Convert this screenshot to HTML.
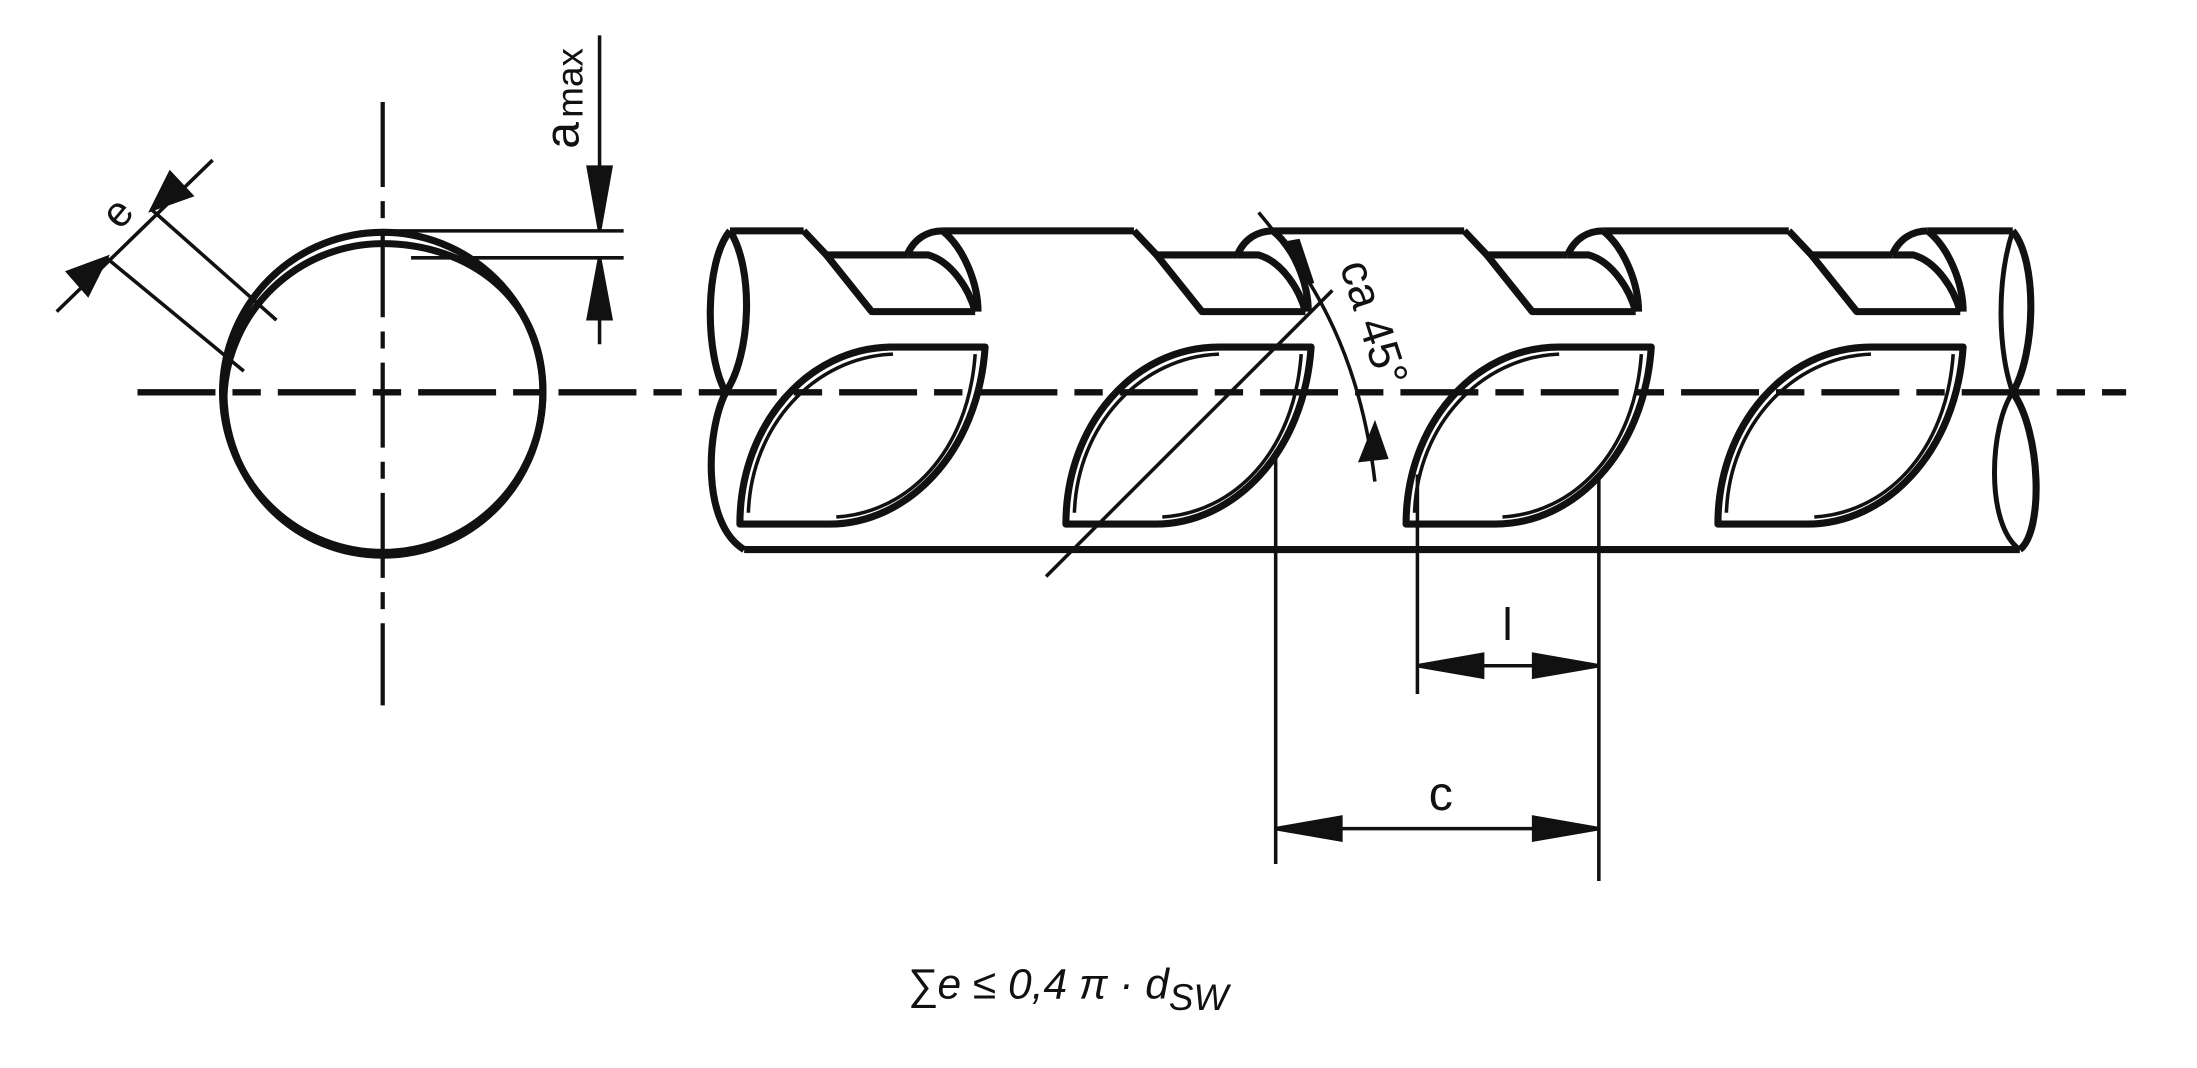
<!DOCTYPE html>
<html><head><meta charset="utf-8"><style>
html,body{margin:0;padding:0;background:#fff;}
svg{display:block;}
</style></head><body>
<svg width="2197" height="1068" viewBox="0 0 1550 754" preserveAspectRatio="none" xmlns="http://www.w3.org/2000/svg">
<defs>
<g id="toprib" fill="none" stroke="#111" stroke-width="5" stroke-linejoin="round">
  <path d="M567,163 L583,180 L640,180"/>
  <path d="M583,180 L615,220 L688,220"/>
  <path d="M640,180 C645,168 655,163 665,163"/>
  <path d="M640,180 L655,180 C672,185 684,205 688,220"/>
  <path d="M665,163 C680,175 690,200 690,220"/>
</g>
<g id="leaf" fill="none" stroke="#111" stroke-linejoin="round">
  <path stroke-width="5" d="M630,245 L695,245 C690,320 640,370 585,370 L522,370 C522,300 570,245 630,245"/>
  <path stroke-width="2.5" d="M528,362 C530,300 575,252 630,250"/>
  <path stroke-width="2.5" d="M688,250 C683,320 640,362 590,365"/>
</g>
</defs>

<line x1="97" y1="277" x2="1500" y2="277" stroke="#111" stroke-width="4.5" stroke-dasharray="55 12 20 12"/>
<line x1="270" y1="72" x2="270" y2="498" stroke="#111" stroke-width="3" stroke-dasharray="60 10 12 10"/>

<ellipse cx="270" cy="277" rx="113" ry="113" fill="none" stroke="#111" stroke-width="5"/>
<path d="M270,172 C330,172 385,210 383,280 C381,345 330,392 270,392 C210,392 160,345 158,280 C160,220 210,172 270,172Z" fill="none" stroke="#111" stroke-width="5"/>

<g stroke="#111" stroke-width="2.5" fill="#111">
  <line x1="40" y1="220" x2="150" y2="113"/>
  <line x1="107" y1="148" x2="195" y2="226"/>
  <line x1="75" y1="182" x2="172" y2="262"/>
  <polygon points="107,148 120,122 135,138"/>
  <polygon points="75,182 62,208 48,192"/>
</g>
<text x="0" y="0" transform="translate(85,163) rotate(-50)" font-family="Liberation Sans, sans-serif" font-size="30" fill="#111">e</text>

<g stroke="#111" stroke-width="2.5" fill="#111">
  <line x1="423" y1="25" x2="423" y2="163"/>
  <line x1="423" y1="182" x2="423" y2="243"/>
  <line x1="270" y1="163" x2="440" y2="163"/>
  <line x1="290" y1="182" x2="440" y2="182"/>
  <polygon points="423,163 415,118 431,118"/>
  <polygon points="423,182 415,225 431,225"/>
</g>
<text transform="translate(408,105) rotate(-90)" font-family="Liberation Sans, sans-serif" font-size="34" fill="#111">a<tspan font-size="26" dy="3" dx="3">max</tspan></text>

<g fill="none" stroke="#111" stroke-width="5" stroke-linejoin="round">
  <path d="M515,163 L567,163"/>
  <path d="M665,163 L800,163"/>
  <path d="M898,163 L1033,163"/>
  <path d="M1131,163 L1262,163"/>
  <path d="M1360,163 L1420,163"/>
  <path d="M525,388 L1425,388"/>
  <path d="M515,163 C497,185 497,250 512,277 C498,305 495,370 525,388"/>
  <path d="M515,163 C532,190 530,250 512,277"/>
  <path d="M1420,163 C1438,185 1436,250 1420,277 C1440,305 1442,375 1425,388"/>
  <path d="M1420,163 C1408,200 1410,250 1420,277 C1404,300 1400,370 1425,388" stroke-width="3.5"/>
</g>
<use href="#toprib"/>
<use href="#toprib" transform="translate(233,0)"/>
<use href="#toprib" transform="translate(466,0)"/>
<use href="#toprib" transform="translate(695,0)"/>
<use href="#leaf"/>
<use href="#leaf" transform="translate(230,0)"/>
<use href="#leaf" transform="translate(470,0)"/>
<use href="#leaf" transform="translate(690,0)"/>

<g stroke="#111" stroke-width="2.5" fill="#111">
  <line x1="738" y1="407" x2="940" y2="205"/>
  <path d="M888,150 C930,200 960,255 970,340" fill="none"/>
  <polygon points="905,172 916,170 926,200"/>
  <polygon points="970,300 960,325 978,323"/>
</g>
<text transform="translate(945,188) rotate(72)" font-family="Liberation Sans, sans-serif" font-size="32" fill="#111">ca 45°</text>

<g stroke="#111" stroke-width="2.5" fill="#111">
  <line x1="900" y1="318" x2="900" y2="610"/>
  <line x1="1128" y1="335" x2="1128" y2="622"/>
  <line x1="1000" y1="335" x2="1000" y2="490"/>
  <line x1="1000" y1="470" x2="1128" y2="470"/>
  <polygon points="1000,470 1046,462 1046,478"/>
  <polygon points="1128,470 1082,462 1082,478"/>
  <line x1="900" y1="585" x2="1128" y2="585"/>
  <polygon points="900,585 946,577 946,593"/>
  <polygon points="1128,585 1082,577 1082,593"/>
</g>
<text x="1060" y="452" font-family="Liberation Sans, sans-serif" font-size="32" fill="#111">l</text>
<text x="1008" y="572" font-family="Liberation Sans, sans-serif" font-size="34" fill="#111">c</text>

<text x="640" y="705" font-family="Liberation Sans, DejaVu Sans, sans-serif" font-size="30" font-style="italic" fill="#111">∑e ≤ 0,4 π · d<tspan font-size="26" dy="8">SW</tspan></text>
</svg>
</body></html>
